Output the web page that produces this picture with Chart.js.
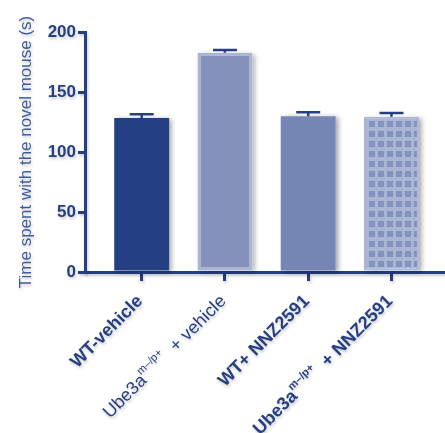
<!DOCTYPE html>
<html>
<head>
<meta charset="utf-8">
<script src="https://cdn.jsdelivr.net/npm/chart.js@4/dist/chart.umd.min.js"></script>
<style>
  html, body { margin: 0; padding: 0; background: #fff; }
  #wrap { width: 445px; height: 433px; position: relative; }
</style>
</head>
<body>
<div id="wrap"><canvas id="chart"></canvas></div>
<script>
// group labels: each part is [text, isSuperscript]
const groupLabels = [
  [['WT-vehicle', false]],
  [['Ube3a', false], ['m\u2013/p+', true], ['  + vehicle', false]],
  [['WT+ NNZ2591', false]],
  [['Ube3a', false], ['m\u2013/p+', true], ['  + NNZ2591', false]]
];
const labelBold = [true, false, true, true];

// mean time (s) and SEM per group
const means = [128.3, 182.8, 129.7, 129.4];
const sems = [3.2, 2.3, 3.5, 3.1];

const yTicks = [0, 50, 100, 150, 200];

const navy = '#243f82';
const fontFamily = '"Liberation Sans", Arial, Helvetica, sans-serif';

// checkered fill for the last bar
function makeGrid() {
  const c = document.createElement('canvas');
  c.width = 9; c.height = 10;
  const g = c.getContext('2d');
  g.fillStyle = '#a9b5d3';
  g.fillRect(0, 0, 9, 10);
  g.fillStyle = '#8393bf';
  g.fillRect(0, 1, 6, 6);
  return g.createPattern(c, 'repeat');
}
const ctx = document.getElementById('chart').getContext('2d');
const gridFill = makeGrid();

const barFill = [navy, '#8492bb', '#7686b4', gridFill];
const barEdge = [navy, '#aab5d1', '#7686b4', '#a9b5d3'];
const barEdgeWidth = [0, 3, 0, 2];

// soft shadow under axes and text
const softShadow = {
  id: 'softShadow',
  beforeDraw(chart) {
    const c = chart.ctx;
    c.save();
    c.shadowColor = 'rgba(0,0,0,0.22)';
    c.shadowBlur = 3;
    c.shadowOffsetX = 1;
    c.shadowOffsetY = 2;
  },
  beforeDatasetsDraw(chart) {
    const c = chart.ctx;
    c.restore();
    // drop shadow behind every bar
    const meta = chart.getDatasetMeta(0);
    c.save();
    c.shadowColor = 'rgba(0,0,0,0.35)';
    c.shadowBlur = 5;
    c.shadowOffsetX = 3;
    c.shadowOffsetY = 1;
    c.fillStyle = '#ffffff';
    meta.data.forEach(bar => {
      c.fillRect(bar.x - bar.width / 2, bar.y, bar.width, bar.base - bar.y);
    });
    c.restore();
  }
};

// SEM whiskers above each bar
const errorBars = {
  id: 'errorBars',
  afterDatasetsDraw(chart) {
    const c = chart.ctx;
    const y = chart.scales.y;
    const meta = chart.getDatasetMeta(0);
    c.save();
    c.strokeStyle = navy;
    c.lineWidth = 2.5;
    meta.data.forEach((bar, i) => {
      const top = y.getPixelForValue(means[i] + sems[i]);
      const mid = y.getPixelForValue(means[i]);
      c.beginPath();
      c.moveTo(bar.x, mid);
      c.lineTo(bar.x, top);
      c.moveTo(bar.x - 12, top);
      c.lineTo(bar.x + 12, top);
      c.stroke();
    });
    c.restore();
  }
};

// rotated category labels with superscripts
const groupText = {
  id: 'groupText',
  afterDraw(chart) {
    const c = chart.ctx;
    const x = chart.scales.x;
    const bottom = chart.chartArea.bottom;
    c.save();
    c.shadowColor = 'rgba(0,0,0,0.22)';
    c.shadowBlur = 3;
    c.shadowOffsetX = 1;
    c.shadowOffsetY = 2;
    c.fillStyle = navy;
    c.textBaseline = 'alphabetic';
    groupLabels.forEach((parts, i) => {
      const weight = labelBold[i] ? 'bold ' : '';
      const fontFor = sup => weight + (sup ? '11px ' : '18px ') + fontFamily;
      let total = 0;
      parts.forEach(([t, sup]) => { c.font = fontFor(sup); total += c.measureText(t).width; });
      c.save();
      c.translate(x.getPixelForValue(i + 1) + 2, bottom + 30);
      c.rotate(-Math.PI / 4);
      let cx = -total;
      parts.forEach(([t, sup]) => {
        c.font = fontFor(sup);
        c.fillText(t, cx, sup ? -9 : 0);
        cx += c.measureText(t).width;
      });
      c.restore();
    });
    c.restore();
  }
};

new Chart(ctx, {
  type: 'bar',
  data: {
    datasets: [{
      data: means.map((v, i) => ({ x: i + 1, y: v })),
      backgroundColor: barFill,
      borderColor: barEdge,
      borderWidth: barEdgeWidth,
      borderSkipped: false,
      categoryPercentage: 1,
      barPercentage: 0.66
    }]
  },
  options: {
    responsive: true,
    maintainAspectRatio: false,
    animation: false,
    layout: { padding: { top: 32, right: 0, left: 0, bottom: 0 } },
    plugins: { legend: { display: false }, tooltip: { enabled: false } },
    scales: {
      x: {
        type: 'linear',
        offset: false,
        min: 0.319,
        max: 4.643,
        afterBuildTicks: s => { s.ticks = groupLabels.map((_, i) => ({ value: i + 1 })); },
        afterFit: s => { s.height = 161; },
        ticks: { display: false },
        border: { color: navy, width: 3 },
        grid: { offset: false, drawOnChartArea: false, color: navy, lineWidth: 3, tickLength: 9 }
      },
      y: {
        min: 0,
        max: 200,
        afterBuildTicks: s => { s.ticks = yTicks.map(v => ({ value: v })); },
        afterFit: s => { s.width = 85; },
        ticks: {
          color: navy,
          padding: 2,
          font: { family: fontFamily, size: 17, weight: 'bold' }
        },
        border: { color: navy, width: 3 },
        grid: { drawOnChartArea: false, color: navy, lineWidth: 3, tickLength: 7 },
        title: {
          display: true,
          text: 'Time spent with the novel mouse (s)',
          color: '#3d5b9e',
          padding: { top: 16, bottom: 0 },
          font: { family: fontFamily, size: 17 }
        }
      }
    }
  },
  plugins: [softShadow, errorBars, groupText]
});
</script>
</body>
</html>
